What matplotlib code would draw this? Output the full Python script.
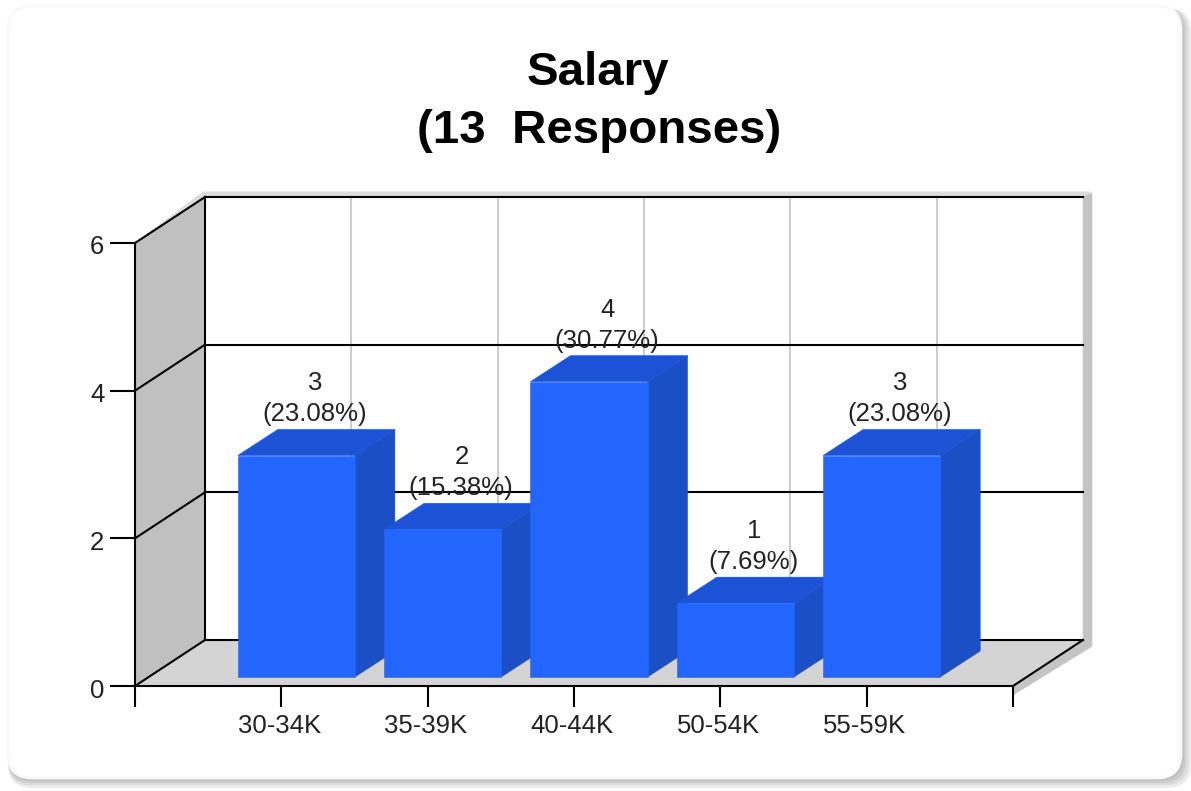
import matplotlib
matplotlib.use('Agg')
import matplotlib.pyplot as plt
from matplotlib.patches import Polygon, FancyBboxPatch
from matplotlib.transforms import Affine2D

categories = ['30-34K', '35-39K', '40-44K', '50-54K', '55-59K']
counts = [3, 2, 4, 1, 3]
percents = ['23.08', '15.38', '30.77', '7.69', '23.08']
yticks = [0, 2, 4, 6]

W, H = 1191, 791
FONT = 'Liberation Sans'
plt.rcParams['font.family'] = FONT

# axes box = front plane of the fake 3d chart
L, R, T, B = 135, 1013, 243, 686
DEPTH = (70, -46)        # back wall offset in pixels (y up = -46 px on image)
BAR_OFF = (15, -9)       # where the bar front sits
BAR_DEPTH = (40, -26)
BAR_W = 0.80

fig = plt.figure(figsize=(W / 100, H / 100), dpi=100)
fig.patch.set_facecolor('white')
ax = fig.add_axes([L / W, 1 - B / H, (R - L) / W, (B - T) / H])
ax.set_xlim(-1, 5)
ax.set_ylim(0, 6)
ax.patch.set_visible(False)


def shift(off):
    # image pixels -> display, y is flipped
    return ax.transData + Affine2D().translate(off[0], -off[1])


def poly(pts, color, z, off=(0, 0)):
    ax.add_patch(Polygon(pts, closed=True, fc=color, ec=color, lw=0.4, zorder=z,
                         transform=shift(off), clip_on=False))


# card with soft shadow, outer layers first
px = Affine2D().scale(1, -1).translate(0, H)
shadow = ['#ececec', '#dcdcdc', '#cccccc', '#bcbcbc', '#b0b0b0']
for i, c in enumerate(shadow):
    grow = (len(shadow) - 1 - i) * 2.5
    fig.add_artist(FancyBboxPatch((8, 8), 1173 + grow, 770 + grow,
                                  boxstyle='round,pad=0,rounding_size=24', fc=c, ec='none',
                                  transform=px, zorder=-5))
fig.add_artist(FancyBboxPatch((8, 6), 1173, 772, boxstyle='round,pad=0,rounding_size=24',
                              fc='white', ec='#f9f9f9', lw=2, transform=px, zorder=-4))

xl, xr = ax.get_xlim()
yb, yt = ax.get_ylim()
dx, dy = DEPTH
# data offset of the back wall, for the grey shadow
ux = (R - L) / (xr - xl)
uy = (B - T) / (yt - yb)
sx = 9 / ux
sy = 9 / uy
ddx = dx / ux
ddy = -dy / uy

# shadow of the frame
poly([(xr + ddx, yt + ddy), (xr + ddx + sx, yt + ddy + 0.05),
      (xr + ddx + sx, yb + ddy - sy * 0.7), (xr, yb - sy), (xr, yb), (xr + ddx, yb + ddy)],
     '#c4c4c4', 1)
poly([(xl, yt), (xl + ddx, yt + ddy), (xr + ddx, yt + ddy), (xr + ddx + sx, yt + ddy + 0.05),
      (xr + ddx + sx * 0.6, yt + ddy + 0.07), (xl + ddx - sx * 0.2, yt + ddy + 0.07)],
     '#dcdcdc', 0.9)
# side wall and floor
poly([(xl, yb), (xl + ddx, yb + ddy), (xl + ddx, yt + ddy), (xl, yt)], '#c0c0c0', 1)
poly([(xl, yb), (xr, yb), (xr + ddx, yb + ddy), (xl + ddx, yb + ddy)], '#d4d4d4', 1)

# back wall grid and diagonals
for v in yticks:
    ax.plot([xl, xr], [v, v], color='black', lw=1.5, zorder=2, transform=shift(DEPTH),
            clip_on=False)
    ax.plot([xl, xl + ddx], [v, v + ddy], color='black', lw=1.5, zorder=2, clip_on=False)
ax.plot([xl, xl], [yb, yt], color='black', lw=1.5, zorder=2, transform=shift(DEPTH),
        clip_on=False)
ax.plot([xr, xr + ddx], [yb, yb + ddy], color='black', lw=1.5, zorder=2, clip_on=False)
for i in range(len(categories)):
    ax.plot([i, i], [yb, yt], color='#c8c8c8', lw=1.3, zorder=1.5, transform=shift(DEPTH),
            clip_on=False)

# bars, left to right so later ones cover the side of earlier ones
bdx = BAR_DEPTH[0] / ux
bdy = -BAR_DEPTH[1] / uy
for i, v in enumerate(counts):
    z = 3 + i * 0.1
    l, r = i - BAR_W / 2, i + BAR_W / 2
    poly([(r, 0), (r + bdx, bdy), (r + bdx, v + bdy), (r, v)], '#1b4fc6', z, BAR_OFF)
    poly([(l, v), (r, v), (r + bdx, v + bdy), (l + bdx, v + bdy)], '#1c52d6', z, BAR_OFF)
    ax.bar(i, v, BAR_W, color='#2266ff', ec='#2266ff', lw=0.4, zorder=z + 0.01,
           transform=shift(BAR_OFF), clip_on=False)
    ax.text(i, v, str(v), transform=shift((34, -81)), ha='center', va='center',
            fontsize=18.5, color='#222222', zorder=10, clip_on=False)
    ax.text(i, v, '(' + percents[i] + '%)', transform=shift((33, -50)), ha='center',
            va='center', fontsize=18.5, color='#222222', zorder=10, clip_on=False)

ax.set_xlim(xl, xr)
ax.set_ylim(yb, yt)
ax.spines['top'].set_visible(False)
ax.spines['right'].set_visible(False)
ax.spines['left'].set_linewidth(1.5)
ax.spines['bottom'].set_linewidth(1.5)
ax.spines['left'].set_zorder(6)
ax.spines['bottom'].set_zorder(6)
ax.set_yticks(yticks)
ax.set_xticks([-1, 0, 1, 2, 3, 4, 5])
ax.set_xticklabels([''] + categories + [''])
ax.tick_params(axis='both', width=1.5, labelsize=18.5, labelcolor='#222222')
ax.tick_params(axis='x', length=15, pad=5)
ax.tick_params(axis='y', length=18, pad=4)
# nudge tick labels a little, same as the reference
for t in ax.get_xticklabels():
    t.set_transform(t.get_transform() + Affine2D().translate(-2, 0))
for t in ax.get_yticklabels():
    t.set_transform(t.get_transform() + Affine2D().translate(0, -2))

fig.text(598 / W, 1 - 73 / H, 'Salary', ha='center', va='center', fontsize=34.2,
         fontweight='bold', color='black')
fig.text(599 / W, 1 - 131 / H, '(13  Responses)', ha='center', va='center', fontsize=34.2,
         fontweight='bold', color='black')

fig.savefig('out.png', dpi=100, facecolor='white')
